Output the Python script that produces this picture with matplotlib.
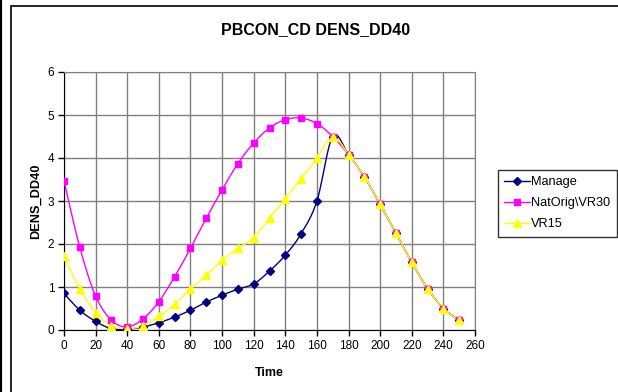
import matplotlib
matplotlib.use('Agg')
import matplotlib.pyplot as plt
from matplotlib.patches import Rectangle
import numpy as np

plt.rcParams['font.family'] = ['Liberation Sans', 'DejaVu Sans']

time = [0, 10, 20, 30, 40, 50, 60, 70, 80, 90, 100, 110, 120, 130,
        140, 150, 160, 170, 180, 190, 200, 210, 220, 230, 240, 250]
manage = [0.85, 0.46, 0.20, 0.03, 0.02, 0.07, 0.17, 0.30, 0.46, 0.65, 0.81, 0.95, 1.07, 1.37,
          1.74, 2.24, 3.00, 4.50, 4.08, 3.56, 2.92, 2.25, 1.57, 0.96, 0.50, 0.23]
natorig = [3.47, 1.92, 0.79, 0.23, 0.07, 0.26, 0.66, 1.24, 1.90, 2.60, 3.26, 3.87, 4.35, 4.70,
           4.89, 4.93, 4.80, 4.50, 4.08, 3.56, 2.92, 2.25, 1.57, 0.96, 0.50, 0.23]
vr15 = [1.72, 0.95, 0.40, 0.10, 0.03, 0.10, 0.32, 0.60, 0.95, 1.27, 1.62, 1.90, 2.15, 2.60,
        3.05, 3.52, 4.00, 4.50, 4.08, 3.56, 2.92, 2.25, 1.57, 0.96, 0.50, 0.23]

series = [('Manage', manage, '#000080', 'D', 4),
          ('NatOrig\\VR30', natorig, '#FF00FF', 's', 5),
          ('VR15', vr15, '#FFFF00', '^', 5.5)]


def smooth(x, y, n=12):
    # Excel-style smoothed line: Catmull-Rom curve through the data points
    x = np.asarray(x, float)
    y = np.asarray(y, float)
    px = np.concatenate([[x[0]], x, [x[-1]]])
    py = np.concatenate([[y[0]], y, [y[-1]]])
    xs, ys = [], []
    t = np.linspace(0, 1, n, endpoint=False)
    for i in range(1, len(px) - 2):
        for p, out in ((px, xs), (py, ys)):
            p0, p1, p2, p3 = p[i - 1], p[i], p[i + 1], p[i + 2]
            out.extend(0.5 * (2 * p1 + (-p0 + p2) * t
                              + (2 * p0 - 5 * p1 + 4 * p2 - p3) * t ** 2
                              + (-p0 + 3 * p1 - 3 * p2 + p3) * t ** 3))
    xs.append(x[-1])
    ys.append(y[-1])
    return xs, ys


fig = plt.figure(figsize=(6.18, 3.92), dpi=100)
ax = fig.add_axes([64 / 618, 62 / 392, 411 / 618, 258 / 392])

for name, vals, color, marker, ms in series:
    sx, sy = smooth(time, vals)
    ax.plot(sx, sy, color=color, linewidth=1, zorder=3)
    ax.plot(time, vals, linestyle='none', marker=marker, markersize=ms,
            color=color, markeredgecolor=color, zorder=4)
    ax.plot([], [], color=color, marker=marker, markersize=ms, linewidth=1, label=name)

ax.set_xlim(0, 260)
ax.set_ylim(0, 6)
ax.set_xticks(range(0, 261, 20))
ax.set_yticks(range(0, 7))
ax.grid(True, color='#808080', linewidth=1)
ax.set_axisbelow(True)
for s in ax.spines.values():
    s.set_color('#808080')
ax.spines['bottom'].set_color('black')
ax.spines['left'].set_color('black')
ax.tick_params(labelsize=8.5, length=4, width=1, color='black', pad=3)

fig.text(316 / 618, 1 - 30 / 392, 'PBCON_CD DENS_DD40', fontsize=11.5,
         fontweight='bold', ha='center', va='center')
ax.set_xlabel('Time', fontsize=9, fontweight='bold', labelpad=11)
ax.set_ylabel('DENS_DD40', fontsize=9.2, fontweight='bold', labelpad=4)

leg = ax.legend(loc='upper left', bbox_to_anchor=(498 / 618, 1 - 170 / 392),
                bbox_transform=fig.transFigure, fontsize=9.2, frameon=True,
                fancybox=False, edgecolor='black', borderpad=0.5,
                borderaxespad=0, handlelength=2.0, handletextpad=0.1,
                labelspacing=0.7)
leg.get_frame().set_linewidth(1)
leg._legend_box.sep = 0

# chart area border
fig.patches.append(Rectangle((11 / 618, -0.1), 1.2, (392 - 6) / 392 + 0.1,
                             transform=fig.transFigure, fill=False,
                             edgecolor='black', linewidth=1.2))
fig.patches.append(Rectangle((0.5 / 618, -0.1), 0, 1.2, transform=fig.transFigure,
                             fill=False, edgecolor='black', linewidth=1.5))

fig.savefig('out.png', dpi=100)
